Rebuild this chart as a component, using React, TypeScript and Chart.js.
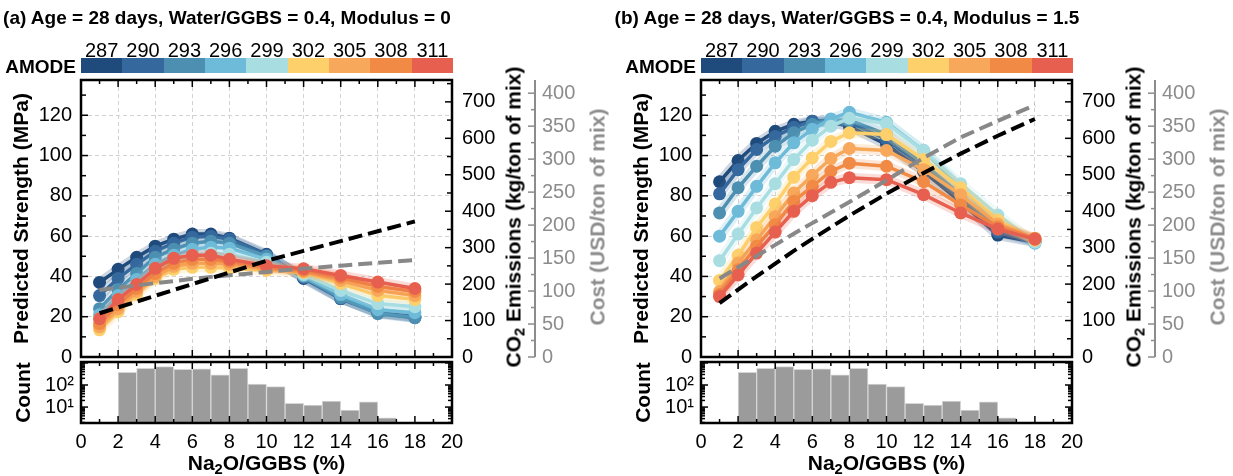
import React, { useEffect, useRef } from 'react';
import { Chart, registerables } from 'chart.js';

Chart.register(...registerables);

const FONT = "'Liberation Sans', Arial, Helvetica, sans-serif";
Chart.defaults.font.family = FONT;
Chart.defaults.color = '#000';

// ---------------- data ----------------
const naPercent = [1, 2, 3, 4, 5, 6, 7, 8, 10, 12, 14, 16, 18];
const amodeLabels = ['287', '290', '293', '296', '299', '302', '305', '308', '311'];
const amodeColors = ['#1f4a7c', '#35689c', '#4d8fb1', '#6dbbd8', '#a8dde2', '#fdd06c', '#f8a85a', '#f08a44', '#e7604f'];

// Panel (a): Modulus = 0
const strengthA287 = [37, 43.5, 49.5, 55, 58.5, 61, 61, 59, 51, 39, 29, 22, 20];
const strengthA290 = [30.5, 39, 46, 52.5, 56.5, 59.5, 60, 58.5, 50.5, 39.5, 29, 22, 19.5];
const strengthA293 = [24, 33.5, 41.5, 49.5, 53.5, 56.5, 57.5, 56.5, 50, 40, 29.5, 21.5, 19.5];
const strengthA296 = [21, 30.5, 38.5, 46, 50.5, 53.5, 54.5, 54, 48.5, 40.5, 31, 23.5, 22];
const strengthA299 = [19, 28, 35.5, 42.5, 47.5, 50.5, 51.5, 51, 47, 41, 33, 26.5, 25];
const strengthA302 = [13.5, 22.5, 31, 39, 43.5, 44.5, 44.5, 44, 43, 42, 36.5, 30.5, 28.5];
const strengthA305 = [15, 24, 32.5, 40, 45, 46.5, 46.5, 46, 44, 42.5, 38, 33, 30.5];
const strengthA308 = [16.5, 26, 34, 41.5, 46.5, 48.5, 48.5, 47.5, 44.5, 43, 39.5, 35, 32.5];
const strengthA311 = [19, 28.5, 36, 44, 49, 50.5, 50.5, 48.5, 45.3, 43.8, 40.5, 37.2, 34];
const co2A = [120, 136, 152, 168, 184, 200, 216, 232, 264, 291, 318, 345, 372];
const costA = [101.5, 105, 108.5, 112, 115, 118.5, 121.5, 124, 129, 134, 138.5, 143, 147];

// Panel (b): Modulus = 1.5
const strengthB287 = [87, 97.5, 106, 112, 115.5, 117, 116.5, 114.5, 105.5, 92, 77, 60.5, 57];
const strengthB290 = [81, 93, 103, 109.5, 114, 117, 117.5, 116.5, 108, 94, 79, 62, 57.5];
const strengthB293 = [71.5, 84, 94.7, 104.6, 111.3, 115.5, 117.5, 117.5, 110.5, 96, 80.5, 63.5, 57.5];
const strengthB296 = [60, 72.3, 84.7, 96.4, 106.3, 113, 118.2, 121.5, 116.5, 102.5, 84, 67, 56.5];
const strengthB299 = [47.8, 61, 74, 86, 98, 107.6, 114.6, 118.5, 116, 102.5, 86, 70.5, 57];
const strengthB302 = [38, 50.5, 64.3, 76, 89.2, 98.8, 107, 111.3, 110.4, 98, 84, 68, 58];
const strengthB305 = [32.5, 46.6, 58.2, 69.8, 81.4, 90.2, 98.5, 103.5, 102.5, 93, 80.5, 66, 58.5];
const strengthB308 = [31, 43.3, 55, 65.7, 77.3, 84.7, 92.2, 96.2, 94.7, 87, 75.5, 64.5, 59];
const strengthB311 = [30, 40.7, 51.6, 62, 72.3, 80.1, 86.7, 89, 88, 80.6, 71.5, 63.5, 58.5];
const co2B = [148, 185, 221, 256, 291, 324, 356, 388, 448, 505, 558, 607, 653];
const costB = [119, 136, 153, 170, 187, 203, 219, 235, 268, 302, 333, 358, 382];

// Histogram of Na2O/GGBS in the dataset (same in both panels)
const histBinCenters = [2.5, 3.5, 4.5, 5.5, 6.5, 7.5, 8.5, 9.5, 10.5, 11.5, 12.5, 13.5, 14.5, 15.5, 16.5];
const histCounts = [378, 574, 679, 518, 534, 285, 574, 111, 84, 14.7, 12.3, 18.7, 7.3, 17.4, 3.3];

// axes
const naTicks = [0, 2, 4, 6, 8, 10, 12, 14, 16, 18, 20];
const strengthTicks = [0, 20, 40, 60, 80, 100, 120];
const co2Ticks = [0, 100, 200, 300, 400, 500, 600, 700];
const costTicks = [0, 50, 100, 150, 200, 250, 300, 350, 400];
const countTicks = [10, 100];
const countTickLabels = ['10\u00b9', '10\u00b2'];
const naMax = 20;
const strengthMax = 137.5;
const co2Max = 760;
const costMax = 420;
const countMin = 1.9;
const countMax = 1100;

const panelTitles = [
  '(a) Age = 28 days, Water/GGBS = 0.4, Modulus = 0',
  '(b) Age = 28 days, Water/GGBS = 0.4, Modulus = 1.5',
];

// ---------------- layout (px) ----------------
const H = 476;
const PLOT_L = 81;
const PLOT_R = 452;
const PLOT_T = 80;
const PLOT_B = 357;
const HIST_TOP = 320;
const HIST_T = 362;
const HIST_B = 423;
const COST_SPINE = 535;
const GRID = '#d2d2d2';
const GRAY = '#8c8c8c';

const hexA = (hex: string, a: number) => {
  const n = parseInt(hex.slice(1), 16);
  return `rgba(${(n >> 16) & 255},${(n >> 8) & 255},${n & 255},${a})`;
};

const seg = (ctx: CanvasRenderingContext2D, x1: number, y1: number, x2: number, y2: number) => {
  ctx.beginPath();
  ctx.moveTo(x1, y1);
  ctx.lineTo(x2, y2);
  ctx.stroke();
};

const mainFrame = {
  id: 'mainFrame',
  afterDraw(chart: any) {
    const { ctx, chartArea: a, scales } = chart;
    const sx = scales.x, sy = scales.y, sc = scales.yCo2, sk = scales.yCost;
    ctx.save();
    ctx.strokeStyle = '#000';
    ctx.lineWidth = 1.5;
    for (let v = 1; v < naMax; v += 1) {
      const p = sx.getPixelForValue(v);
      const L = v % 2 === 0 ? 7 : 4;
      seg(ctx, p, a.bottom, p, a.bottom - L);
      seg(ctx, p, a.top, p, a.top + L);
    }
    for (let v = 10; v < strengthMax; v += 10) {
      const p = sy.getPixelForValue(v);
      seg(ctx, a.left, p, a.left + (v % 20 === 0 ? 7 : 5), p);
    }
    for (let v = 50; v < co2Max; v += 50) {
      const p = sc.getPixelForValue(v);
      seg(ctx, a.right, p, a.right - (v % 100 === 0 ? 7 : 5), p);
    }
    ctx.lineWidth = 2.5;
    ctx.strokeRect(a.left, a.top, a.right - a.left, a.bottom - a.top);
    // cost spine
    ctx.strokeStyle = GRAY;
    ctx.lineWidth = 2;
    seg(ctx, sk.left, a.top, sk.left, a.bottom);
    ctx.lineWidth = 1.5;
    for (let v = 0; v <= 400; v += 25) {
      const p = sk.getPixelForValue(v);
      seg(ctx, sk.left - (v % 50 === 0 ? 7 : 4), p, sk.left, p);
    }
    ctx.restore();
  },
};

const histFrame = {
  id: 'histFrame',
  afterDraw(chart: any) {
    const { ctx, chartArea: a, scales } = chart;
    const sx = scales.x, sy = scales.y;
    ctx.save();
    ctx.strokeStyle = '#000';
    ctx.lineWidth = 1.5;
    for (let v = 1; v < naMax; v += 1) {
      const p = sx.getPixelForValue(v);
      const L = v % 2 === 0 ? 7 : 4;
      seg(ctx, p, a.bottom, p, a.bottom - L);
      seg(ctx, p, a.top, p, a.top + L);
    }
    for (const dec of [1, 10, 100, 1000]) {
      for (let m = 1; m <= 9; m++) {
        const v = m * dec;
        if (v <= countMin || v >= countMax) continue;
        const p = sy.getPixelForValue(v);
        const L = m === 1 ? 7 : 4;
        seg(ctx, a.left, p, a.left + L, p);
        seg(ctx, a.right, p, a.right - L, p);
      }
    }
    ctx.lineWidth = 2.5;
    ctx.strokeRect(a.left, a.top, a.right - a.left, a.bottom - a.top);
    ctx.restore();
  },
};

const tickFont = { size: 20 };
const titleFont = { size: 21, weight: 'bold' as const };

function buildMain(canvas: HTMLCanvasElement, width: number, strength: number[][], co2: number[], cost: number[]) {
  const datasets: any[] = [
    {
      data: naPercent.map((x, i) => ({ x, y: co2[i] })),
      yAxisID: 'yCo2', borderColor: '#000', borderWidth: 4, borderDash: [14, 6],
      pointRadius: 0, tension: 0, order: 0,
    },
    {
      data: naPercent.map((x, i) => ({ x, y: cost[i] })),
      yAxisID: 'yCost', borderColor: '#888888', borderWidth: 4, borderDash: [14, 6],
      pointRadius: 0, tension: 0, order: 1,
    },
  ];
  strength.forEach((series, i) => {
    const c = amodeColors[i];
    datasets.push({
      data: naPercent.map((x, j) => ({ x, y: series[j] })),
      yAxisID: 'y', borderColor: hexA(c, 0.22), borderWidth: 10, pointRadius: 0,
      borderJoinStyle: 'round', borderCapStyle: 'round', tension: 0, order: 100 - 2 * i,
    });
    datasets.push({
      data: naPercent.map((x, j) => ({ x, y: series[j] })),
      yAxisID: 'y', borderColor: c, backgroundColor: c, borderWidth: 3.5,
      pointRadius: 6.5, pointBackgroundColor: c, pointBorderWidth: 0, tension: 0,
      order: 99 - 2 * i,
    });
  });

  return new Chart(canvas, {
    type: 'line',
    data: { datasets },
    options: {
      animation: false,
      responsive: false,
      maintainAspectRatio: false,
      layout: { padding: { top: PLOT_T, left: 0, right: 0, bottom: 0 } },
      plugins: { legend: { display: false }, tooltip: { enabled: false } },
      scales: {
        x: {
          type: 'linear', min: 0, max: naMax,
          afterBuildTicks: (s: any) => { s.ticks = naTicks.map((v) => ({ value: v })); },
          ticks: { display: false },
          grid: { color: GRID, lineWidth: 1, drawTicks: false },
          border: { display: false, dash: [4, 3] },
          afterFit: (s: any) => { s.height = H - PLOT_B; },
        },
        y: {
          type: 'linear', position: 'left', min: 0, max: strengthMax,
          afterBuildTicks: (s: any) => { s.ticks = strengthTicks.map((v) => ({ value: v })); },
          ticks: { font: tickFont, padding: 9, color: '#000', autoSkip: false },
          grid: { color: GRID, lineWidth: 1, drawTicks: false },
          border: { display: false, dash: [4, 3] },
          title: { display: true, text: 'Predicted Strength (MPa)', font: titleFont, color: '#000', padding: { top: 10, bottom: 0 } },
          afterFit: (s: any) => { s.width = PLOT_L; },
        },
        yCo2: {
          type: 'linear', position: 'right', weight: 0, min: 0, max: co2Max,
          afterBuildTicks: (s: any) => { s.ticks = co2Ticks.map((v) => ({ value: v })); },
          ticks: { font: tickFont, padding: 10, color: '#000', autoSkip: false },
          grid: { display: false, drawTicks: false },
          border: { display: false },
          afterFit: (s: any) => { s.width = COST_SPINE - PLOT_R; },
        },
        yCost: {
          type: 'linear', position: 'right', weight: 1, min: 0, max: costMax,
          afterBuildTicks: (s: any) => { s.ticks = costTicks.map((v) => ({ value: v })); },
          ticks: { font: tickFont, padding: 7, color: GRAY, autoSkip: false },
          grid: { display: false, drawTicks: false },
          border: { display: false },
          afterFit: (s: any) => { s.width = width - COST_SPINE; },
        },
      },
    } as any,
    plugins: [mainFrame],
  });
}

function buildHist(canvas: HTMLCanvasElement, width: number) {
  return new Chart(canvas, {
    type: 'bar',
    data: {
      datasets: [{
        data: histBinCenters.map((x, i) => ({ x, y: histCounts[i] })),
        backgroundColor: '#9b9b9b', borderColor: '#d6d6d6', borderWidth: 1,
        barPercentage: 1, categoryPercentage: 1,
      }],
    } as any,
    options: {
      animation: false,
      responsive: false,
      maintainAspectRatio: false,
      layout: { padding: { top: HIST_T - HIST_TOP, left: 0, right: width - PLOT_R, bottom: 0 } },
      plugins: { legend: { display: false }, tooltip: { enabled: false } },
      scales: {
        x: {
          type: 'linear', offset: false, min: 0, max: naMax,
          afterBuildTicks: (s: any) => { s.ticks = naTicks.map((v) => ({ value: v })); },
          ticks: { font: tickFont, padding: 7, color: '#000', autoSkip: false, maxRotation: 0 },
          grid: { display: false, drawTicks: false },
          border: { display: false },
          afterFit: (s: any) => { s.height = H - HIST_B; },
        },
        y: {
          type: 'logarithmic', beginAtZero: false, min: countMin, max: countMax,
          afterBuildTicks: (s: any) => { s.ticks = countTicks.map((v) => ({ value: v })); },
          ticks: {
            font: tickFont, padding: 7, color: '#000', autoSkip: false,
            callback: (_v: any, i: number) => countTickLabels[i],
          },
          grid: { display: false, drawTicks: false },
          border: { display: false },
          title: { display: true, text: 'Count', font: titleFont, color: '#000', padding: { top: 12, bottom: 0 } },
          afterFit: (s: any) => { s.width = PLOT_L; },
        },
      },
    } as any,
    plugins: [histFrame],
  });
}

const txt: React.CSSProperties = {
  position: 'absolute', whiteSpace: 'nowrap', fontFamily: FONT, lineHeight: 1, color: '#000',
};
const subStyle: React.CSSProperties = { fontSize: '0.7em', verticalAlign: '-0.25em', lineHeight: 0 };

function Panel(props: { left: number; width: number; title: string; strength: number[][]; co2: number[]; cost: number[] }) {
  const { left, width, title, strength, co2, cost } = props;
  const mainRef = useRef<HTMLCanvasElement>(null);
  const histRef = useRef<HTMLCanvasElement>(null);

  useEffect(() => {
    const main = buildMain(mainRef.current!, width, strength, co2, cost);
    const hist = buildHist(histRef.current!, width);
    return () => { main.destroy(); hist.destroy(); };
  }, []);

  const segW = (PLOT_R + 1 - PLOT_L) / amodeColors.length;

  return (
    <div style={{ position: 'absolute', left, top: 0, width, height: H }}>
      <canvas ref={mainRef} width={width} height={H} style={{ position: 'absolute', left: 0, top: 0, width, height: H }} />
      <canvas ref={histRef} width={width} height={H - HIST_TOP} style={{ position: 'absolute', left: 0, top: HIST_TOP, width, height: H - HIST_TOP }} />

      <div style={{ ...txt, left: 227, top: 8, transform: 'translateX(-50%)', fontSize: 19, fontWeight: 'bold' }}>{title}</div>

      <div style={{ ...txt, left: 76, top: 56.5, transform: 'translateX(-100%)', fontSize: 19, fontWeight: 'bold' }}>AMODE</div>
      {amodeColors.map((c, i) => (
        <div key={'c' + i} style={{ position: 'absolute', left: PLOT_L + i * segW, top: 58, width: segW + 0.5, height: 14.5, background: c }} />
      ))}
      {amodeLabels.map((l, i) => (
        <div key={'l' + i} style={{ ...txt, left: PLOT_L + (i + 0.5) * segW, top: 39.5, transform: 'translateX(-50%)', fontSize: 20 }}>{l}</div>
      ))}

      <div style={{ ...txt, left: 513, top: 216.5, transform: 'translate(-50%,-50%) rotate(-90deg)', fontSize: 21, fontWeight: 'bold' }}>
        CO<span style={subStyle}>2</span> Emissions (kg/ton of mix)
      </div>
      <div style={{ ...txt, left: 597, top: 216.5, transform: 'translate(-50%,-50%) rotate(-90deg)', fontSize: 21, fontWeight: 'bold', color: GRAY }}>
        Cost (USD/ton of mix)
      </div>
      <div style={{ ...txt, left: (PLOT_L + PLOT_R) / 2, top: 452, transform: 'translateX(-50%)', fontSize: 21, fontWeight: 'bold' }}>
        Na<span style={subStyle}>2</span>O/GGBS (%)
      </div>
    </div>
  );
}

export default function App() {
  const strengthA = [strengthA287, strengthA290, strengthA293, strengthA296, strengthA299, strengthA302, strengthA305, strengthA308, strengthA311];
  const strengthB = [strengthB287, strengthB290, strengthB293, strengthB296, strengthB299, strengthB302, strengthB305, strengthB308, strengthB311];
  return (
    <div style={{ position: 'absolute', left: 0, top: 0, width: 1233, height: H, background: '#fff', overflow: 'hidden' }}>
      <Panel left={0} width={620} title={panelTitles[0]} strength={strengthA} co2={co2A} cost={costA} />
      <Panel left={620} width={613} title={panelTitles[1]} strength={strengthB} co2={co2B} cost={costB} />
    </div>
  );
}
